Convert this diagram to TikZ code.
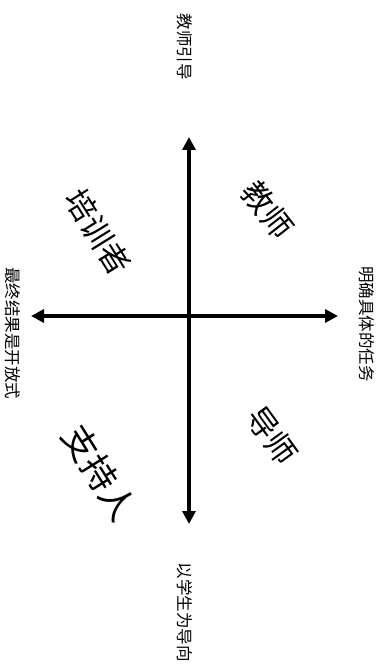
\documentclass[tikz,border=0pt]{standalone}
\usepackage{fontspec}
\newfontfamily\cjk{Noto Sans CJK SC}
\usetikzlibrary{arrows.meta}
\begin{document}
\begin{tikzpicture}[x=1pt,y=-1pt,
  axis/.style={line width=3.4pt,-{Triangle[length=13pt,width=13pt]}},
  small/.style={font=\cjk\fontsize{16.5}{16.5}\selectfont,rotate=-90,inner sep=0pt},
  big/.style={font=\cjk\fontsize{31}{31}\selectfont,inner sep=0pt}]
\useasboundingbox (0,0) rectangle (387,668);
\coordinate (o) at (189,316);
\coordinate (top) at (189,137);
\coordinate (bot) at (189,524);
\coordinate (lft) at (31,316);
\coordinate (rgt) at (338,316);
\draw[axis] (o) -- (top);
\draw[axis] (o) -- (bot);
\draw[axis] (o) -- (lft);
\draw[axis] (o) -- (rgt);
\node[small] (t1) at (185,47) {教师引导};
\node[small] (t2) at (185,612) {以学生为导向};
\node[small] (t3) at (367,324) {明确具体的任务};
\node[small] (t4) at (13,333) {最终结果是开放式};
\node[big,rotate=-52] (q1) at (268,210) {教师};
\node[big,rotate=-58] (q2) at (98,232) {培训者};
\node[big,rotate=-54] (q3) at (272,436) {导师};
\node[big,rotate=-58,font=\cjk\fontsize{35}{35}\selectfont] (q4) at (100,473) {支持人};
\end{tikzpicture}
\end{document}
